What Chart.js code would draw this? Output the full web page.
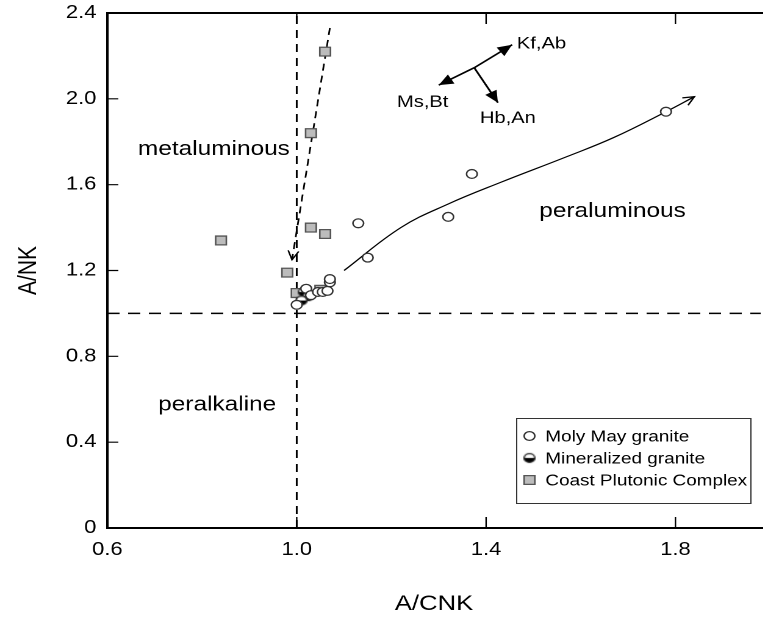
<!DOCTYPE html>
<html>
<head>
<meta charset="utf-8">
<script src="https://cdn.jsdelivr.net/npm/chart.js@4.4.1/dist/chart.umd.min.js"></script>
<style>
  html, body { margin: 0; padding: 0; background: #fff; overflow: hidden; }
  #wrap { position: absolute; left: 0; top: 0; height: 618px; transform-origin: 0 0; }
</style>
</head>
<body>
<div id="wrap"><canvas id="chart"></canvas></div>
<script>
// the original figure is horizontally stretched, so draw narrow and scale
const STRETCH = 1.22;
const W = Math.round(770 / STRETCH);
const H = 618;
const FONT = "'Liberation Sans', Arial, Helvetica, sans-serif";

const xTicks = [0.6, 1.0, 1.4, 1.8];
const yTicks = [0, 0.4, 0.8, 1.2, 1.6, 2.0, 2.4];

const molyMayX = [1.00, 1.02, 1.03, 1.045, 1.055, 1.065, 1.07, 1.07, 1.13, 1.15, 1.32, 1.37, 1.78];
const molyMayY = [1.04, 1.115, 1.085, 1.10, 1.10, 1.105, 1.145, 1.16, 1.42, 1.26, 1.45, 1.65, 1.94];
const mineralX = [1.015, 1.025, 1.01];
const mineralY = [1.10, 1.08, 1.06];
const coastX = [0.84, 0.98, 1.00, 1.03, 1.06, 1.03, 1.06, 1.05];
const coastY = [1.34, 1.19, 1.095, 1.40, 1.37, 1.84, 2.22, 1.11];

// trend curve through the Moly May samples
const trendX = [1.10, 1.22, 1.32, 1.43, 1.57, 1.67, 1.78, 1.84];
const trendY = [1.20, 1.40, 1.51, 1.61, 1.73, 1.82, 1.94, 2.01];
// dashed trend through the Coast Plutonic samples
const coastTrendX = [1.07, 0.99];
const coastTrendY = [2.33, 1.25];

// mineral vectors
const vecKfX = [1.375, 1.455];
const vecKfY = [2.145, 2.252];
const vecMsX = [1.375, 1.30];
const vecMsY = [2.145, 2.064];
const vecHbX = [1.375, 1.425];
const vecHbY = [2.145, 1.982];

const regionNames = ['metaluminous', 'peraluminous', 'peralkaline'];
const regionX = [0.825, 1.667, 0.832];
const regionY = [1.765, 1.474, 0.573];
const vectorNames = ['Kf,Ab', 'Ms,Bt', 'Hb,An'];
const vectorX = [1.517, 1.266, 1.446];
const vectorY = [2.255, 1.982, 1.909];

const xy = (xs, ys) => xs.map((v, i) => ({ x: v, y: ys[i] }));

function halfDot(r) {
  const c = document.createElement('canvas');
  const d = Math.ceil(2 * r + 3);
  c.width = c.height = d;
  const g = c.getContext('2d');
  const m = d / 2;
  g.fillStyle = '#fff';
  g.beginPath(); g.arc(m, m, r, 0, 2 * Math.PI); g.fill();
  g.fillStyle = '#000';
  g.beginPath(); g.arc(m, m, r, 0, Math.PI); g.fill();
  g.strokeStyle = '#222'; g.lineWidth = 1.3;
  g.beginPath(); g.arc(m, m, r, 0, 2 * Math.PI); g.stroke();
  return c;
}

const wrap = document.getElementById('wrap');
wrap.style.width = W + 'px';
wrap.style.transform = `scaleX(${STRETCH})`;
const canvas = document.getElementById('chart');
canvas.width = W;
canvas.height = H;

const lineDs = (data, extra) => Object.assign({
  data, showLine: true, pointRadius: 0, pointHoverRadius: 0,
  borderColor: '#000', borderWidth: 1.2, fill: false
}, extra);

function drawHead(ctx, from, to, kind) {
  const ang = Math.atan2(to.y - from.y, to.x - from.x);
  const len = kind === 'filled' ? 13 : 10;
  const spr = kind === 'filled' ? 0.42 : 0.45;
  const ax = to.x - len * Math.cos(ang - spr), ay = to.y - len * Math.sin(ang - spr);
  const bx = to.x - len * Math.cos(ang + spr), by = to.y - len * Math.sin(ang + spr);
  ctx.beginPath();
  ctx.setLineDash([]);
  if (kind === 'filled') {
    ctx.moveTo(to.x, to.y); ctx.lineTo(ax, ay); ctx.lineTo(bx, by); ctx.closePath();
    ctx.fillStyle = '#000'; ctx.fill();
  } else {
    ctx.moveTo(ax, ay); ctx.lineTo(to.x, to.y); ctx.lineTo(bx, by);
    ctx.strokeStyle = '#000'; ctx.lineWidth = 1.3; ctx.stroke();
  }
}

const arrowHeads = {
  id: 'arrowHeads',
  afterDatasetsDraw(chart) {
    const ctx = chart.ctx;
    ctx.save();
    chart.data.datasets.forEach((ds, i) => {
      if (!ds.arrowHead) return;
      const pts = chart.getDatasetMeta(i).data;
      const n = pts.length;
      drawHead(ctx, pts[n - 2], pts[n - 1], ds.arrowHead);
    });
    ctx.restore();
  }
};

const TICK = 11;
const frame = {
  id: 'frame',
  afterDatasetsDraw(chart) {
    const { ctx, chartArea: a, scales: { x, y } } = chart;
    ctx.save();
    ctx.strokeStyle = '#000';
    ctx.lineWidth = 2;
    ctx.beginPath();
    ctx.moveTo(a.left, a.top); ctx.lineTo(a.right + 2, a.top);
    ctx.moveTo(a.left, a.top - 1); ctx.lineTo(a.left, a.bottom + 1);
    ctx.moveTo(a.left, a.bottom); ctx.lineTo(a.right + 2, a.bottom);
    ctx.stroke();
    ctx.lineWidth = 1.2;
    ctx.beginPath();
    xTicks.slice(1).forEach(v => {
      const px = x.getPixelForValue(v);
      ctx.moveTo(px, a.top); ctx.lineTo(px, a.top + TICK);
      ctx.moveTo(px, a.bottom); ctx.lineTo(px, a.bottom - TICK);
    });
    yTicks.slice(1, -1).forEach(v => {
      const py = y.getPixelForValue(v);
      ctx.moveTo(a.left, py); ctx.lineTo(a.left + TICK / STRETCH, py);
    });
    ctx.stroke();

    // texts
    ctx.fillStyle = '#000';
    ctx.textAlign = 'center';
    ctx.textBaseline = 'middle';
    ctx.font = `20px ${FONT}`;
    regionNames.forEach((t, i) => ctx.fillText(t, x.getPixelForValue(regionX[i]), y.getPixelForValue(regionY[i])));
    ctx.font = `16.5px ${FONT}`;
    vectorNames.forEach((t, i) => ctx.fillText(t, x.getPixelForValue(vectorX[i]), y.getPixelForValue(vectorY[i])));

    // legend
    const L = { left: 423, top: 418, right: 615, bottom: 503 };
    ctx.fillStyle = '#fff';
    ctx.fillRect(L.left, L.top, L.right - L.left, L.bottom - L.top);
    ctx.strokeStyle = '#333';
    ctx.lineWidth = 1;
    ctx.strokeRect(L.left + 0.5, L.top + 0.5, L.right - L.left, L.bottom - L.top);
    ctx.font = `15.5px ${FONT}`;
    ctx.textAlign = 'left';
    chart.data.datasets.slice(0, 3).forEach((ds, i) => {
      const cy = L.top + 18 + i * 22;
      const cx = L.left + 11;
      ctx.fillStyle = ds.backgroundColor; ctx.strokeStyle = ds.borderColor; ctx.lineWidth = ds.borderWidth;
      Chart.helpers.drawPoint(ctx, {
        pointStyle: ds.pointStyle, radius: ds.pointRadius, borderWidth: ds.borderWidth, rotation: 0
      }, cx, cy);
      ctx.fillStyle = '#000';
      ctx.fillText(ds.label, L.left + 24, cy + 1);
    });
    ctx.restore();
  }
};

new Chart(canvas, {
  type: 'scatter',
  data: {
    datasets: [
      { label: 'Moly May granite', data: xy(molyMayX, molyMayY), pointStyle: 'circle', pointRadius: 4.4,
        backgroundColor: '#fff', borderColor: '#333', borderWidth: 1.3 },
      { label: 'Mineralized granite', data: xy(mineralX, mineralY), pointStyle: halfDot(4.4), pointRadius: 4.4,
        backgroundColor: '#000', borderColor: '#222', borderWidth: 1.3 },
      { label: 'Coast Plutonic Complex', data: xy(coastX, coastY), pointStyle: 'rect', pointRadius: 6.2,
        backgroundColor: '#bcbcbc', borderColor: '#555', borderWidth: 1.3 },
      lineDs(xy(trendX, trendY), { tension: 0.4, arrowHead: 'open' }),
      lineDs(xy(coastTrendX, coastTrendY), { borderDash: [7, 5], borderWidth: 1.4, arrowHead: 'open' }),
      lineDs(xy(vecKfX, vecKfY), { borderWidth: 1.6, arrowHead: 'filled' }),
      lineDs(xy(vecMsX, vecMsY), { borderWidth: 1.6, arrowHead: 'filled' }),
      lineDs(xy(vecHbX, vecHbY), { borderWidth: 1.6, arrowHead: 'filled' }),
      lineDs(xy([1.0, 1.0], [0, 2.4]), { borderDash: [8, 6], borderWidth: 1.5 }),
      lineDs(xy([0.6, 2.0], [1.0, 1.0]), { borderDash: [10, 7], borderWidth: 1.5 })
    ]
  },
  options: {
    responsive: false,
    animation: false,
    devicePixelRatio: 2,
    layout: { padding: { top: 13, right: 0, bottom: 0, left: 0 } },
    plugins: { legend: { display: false }, tooltip: { enabled: false } },
    scales: {
      x: {
        type: 'linear', min: 0.6, max: 1.98,
        afterBuildTicks: s => { s.ticks = xTicks.map(v => ({ value: v })); },
        afterFit: s => { s.height = H - 528; },
        grid: { display: false, drawTicks: false },
        border: { display: false },
        ticks: { color: '#000', padding: 11, font: { size: 18, family: FONT },
          maxRotation: 0, autoSkip: false, callback: v => v.toFixed(1) },
        title: { display: true, text: 'A/CNK', color: '#000', font: { size: 21, family: FONT },
          padding: { top: 0, bottom: 1 } }
      },
      y: {
        type: 'linear', min: 0, max: 2.4,
        afterBuildTicks: s => { s.ticks = yTicks.map(v => ({ value: v })); },
        afterFit: s => { s.width = 88; s.paddingTop = 0; s.paddingBottom = 0; },
        grid: { display: false, drawTicks: false },
        border: { display: false },
        ticks: { color: '#000', padding: 9, font: { size: 18, family: FONT },
          autoSkip: false, callback: v => (v === 0 ? '0' : v.toFixed(1)) },
        title: { display: true, text: 'A/NK', color: '#000', font: { size: 21, family: FONT },
          padding: { top: 11, bottom: 0 } }
      }
    }
  },
  plugins: [arrowHeads, frame]
});
</script>
</body>
</html>
